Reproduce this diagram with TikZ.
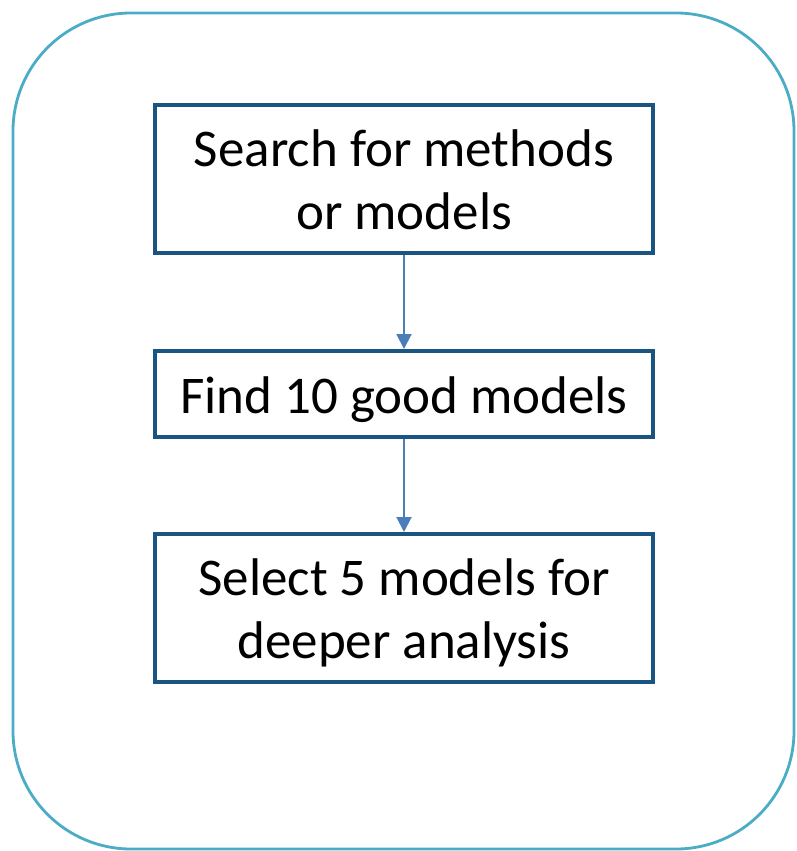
\documentclass[tikz,border=0pt]{standalone}
\usepackage{fontspec}
\setmainfont{Carlito}
\usetikzlibrary{arrows.meta}
\definecolor{framecol}{HTML}{4BACC6}
\definecolor{boxcol}{HTML}{1A5480}
\definecolor{arrowcol}{HTML}{4A7EBB}
% centred block of lines, drawn a little lower than its reported box
\newcommand\steplines[1]{\raisebox{-6.5pt}[\height][\depth]{\begin{tabular}{@{}c@{}}#1\end{tabular}}}
\tikzset{
  stepbox/.style={draw=boxcol, line width=4pt, minimum width=498pt,
    inner sep=0pt, font=\fontsize{53}{63}\selectfont, text=black},
  flow/.style={draw=arrowcol, line width=2pt, -{Triangle[length=15pt,width=15pt]}}
}
\begin{document}
\begin{tikzpicture}[x=1pt,y=-1pt]
  \useasboundingbox (0,0) rectangle (796,851);
  \draw[framecol, line width=2.8pt, rounded corners=118pt] (13,13) rectangle (794,849);
  \node[stepbox, minimum height=148pt] (search) at (404,179) {\steplines{Search for methods\\or models}};
  \node[stepbox, minimum height=86pt] (find) at (404,394) {\steplines{Find 10 good models}};
  \node[stepbox, minimum height=148pt] (select) at (404,608) {\steplines{Select 5 models for\\deeper analysis}};
  \draw[flow] (search) -- (find);
  \draw[flow] (find) -- (select);
\end{tikzpicture}
\end{document}
